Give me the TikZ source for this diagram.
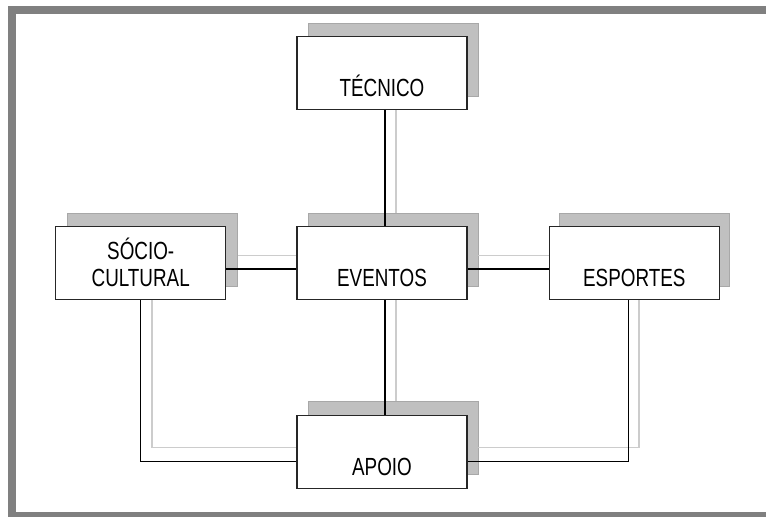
\documentclass[tikz,border=0pt]{standalone}
\usepackage{fontspec}
\newfontfamily\boxfont[FakeStretch=0.76]{Liberation Sans}
\usepackage{tikz}
\usetikzlibrary{positioning}
\usepackage{xcolor}
\definecolor{framegray}{RGB}{128,128,128}
\definecolor{shadefill}{RGB}{192,192,192}
\definecolor{shadeedge}{RGB}{168,168,168}
\definecolor{shadeline}{RGB}{204,204,204}

\tikzset{
  unit/.style={draw=black!85, line width=1.3pt, fill=white, minimum width=170pt, minimum height=73pt,
    inner sep=0pt, align=center, font=\boxfont\fontsize{24.8}{27}\selectfont,
    text height=60pt, text depth=13pt},
  unitshade/.style={draw=shadeedge, line width=0.8pt, fill=shadefill, minimum width=170pt, minimum height=73pt, inner sep=0pt},
  link/.style={line width=1.3pt},
  linkshade/.style={shadeline, line width=1.6pt}
}

\begin{document}
\begin{tikzpicture}[x=1pt, y=-1pt]
  \useasboundingbox (0,0) rectangle (766,517);
  % Frame
  \fill[framegray] (8,6) rectangle (766,14);
  \fill[framegray] (8,6) rectangle (16,517);
  \fill[framegray] (8,512) rectangle (766,517);
  % Shadow
  \node[unitshade] (eventos-s) at (393,249.5) {};
  \node[unitshade, above=116pt of eventos-s] (tecnico-s) {};
  \node[unitshade, left=70pt of eventos-s] (socio-s) {};
  \node[unitshade, right=81pt of eventos-s] (esportes-s) {};
  \node[unitshade, below=115pt of eventos-s] (apoio-s) {};
  \draw[linkshade] ([xshift=3pt]tecnico-s.south) -- ([xshift=3pt]eventos-s.north);
  \draw[linkshade] ([yshift=-6pt]socio-s.east) -- ([yshift=-6pt]eventos-s.west);
  \draw[linkshade] ([yshift=-6pt]eventos-s.east) -- ([yshift=-6pt]esportes-s.west);
  \draw[linkshade] ([xshift=3pt]eventos-s.south) -- ([xshift=3pt]apoio-s.north);
  \draw[linkshade] (socio-s.south) |- ([yshift=-9pt]apoio-s.west);
  \draw[linkshade] ([xshift=-6pt]esportes-s.south) |- ([yshift=-9pt]apoio-s.east);
  % Units
  \node[unit] (eventos) at (382,263) {EVENTOS};
  \node[unit, above=116pt of eventos] (tecnico) {TÉCNICO};
  \node[unit, left=70pt of eventos] (socio) {SÓCIO-\\CULTURAL};
  \node[unit, right=81pt of eventos] (esportes) {ESPORTES};
  \node[unit, below=115pt of eventos] (apoio) {APOIO};
  \draw[link] ([xshift=3pt]tecnico.south) -- ([xshift=3pt]eventos.north);
  \draw[link] ([yshift=-6pt]socio.east) -- ([yshift=-6pt]eventos.west);
  \draw[link] ([yshift=-6pt]eventos.east) -- ([yshift=-6pt]esportes.west);
  \draw[link] ([xshift=3pt]eventos.south) -- ([xshift=3pt]apoio.north);
  \draw[link] (socio.south) |- ([yshift=-9pt]apoio.west);
  \draw[link] ([xshift=-6pt]esportes.south) |- ([yshift=-9pt]apoio.east);
\end{tikzpicture}
\end{document}
